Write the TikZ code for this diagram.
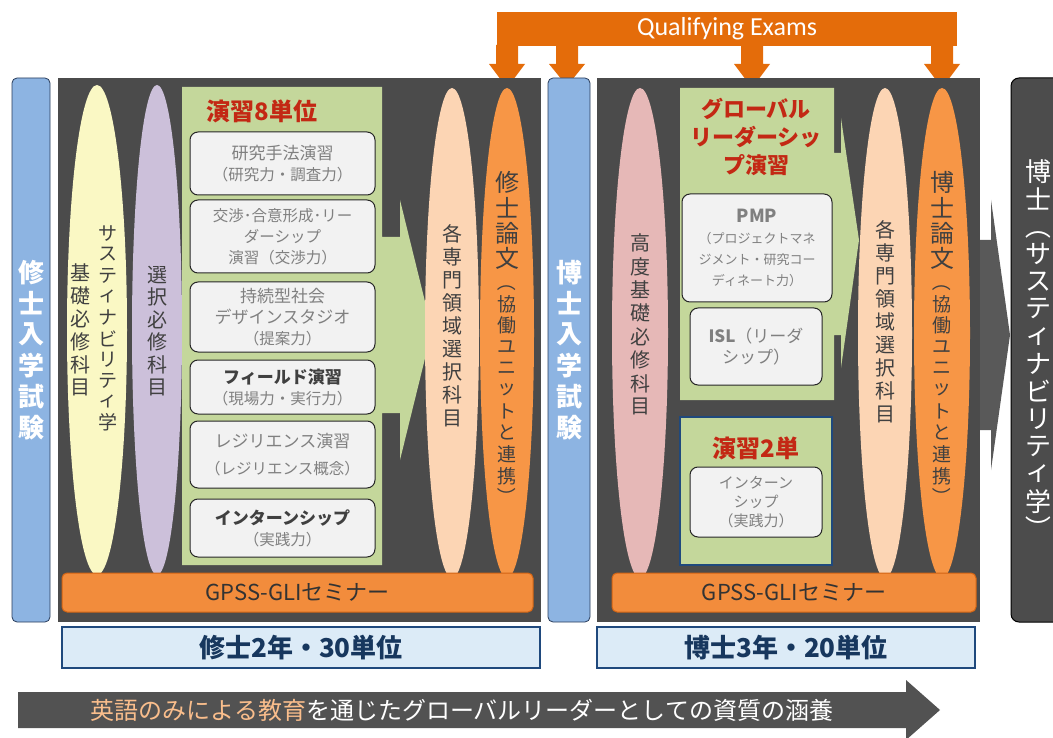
\documentclass[tikz,border=0pt]{standalone}
\usepackage{fontspec}
\usepackage{graphicx}
\setmainfont{Noto Sans CJK JP}
\newfontfamily\latinfont{Carlito}
\usetikzlibrary{shapes.geometric}

\definecolor{panelgray}{RGB}{75,75,75}
\definecolor{entryblue}{RGB}{141,180,226}
\definecolor{entryline}{RGB}{40,60,90}
\definecolor{lemon}{RGB}{250,248,196}
\definecolor{lavender}{RGB}{204,192,218}
\definecolor{leaf}{RGB}{196,215,155}
\definecolor{cardgray}{RGB}{242,242,242}
\definecolor{peach}{RGB}{252,213,180}
\definecolor{thesisorange}{RGB}{247,150,70}
\definecolor{barorange}{RGB}{242,140,60}
\definecolor{barline}{RGB}{210,100,20}
\definecolor{qeorange}{RGB}{228,108,10}
\definecolor{rose}{RGB}{230,184,183}
\definecolor{yearblue}{RGB}{220,235,247}
\definecolor{yearline}{RGB}{31,73,125}
\definecolor{navy}{RGB}{23,55,94}
\definecolor{titlered}{RGB}{195,40,20}
\definecolor{inkgray}{RGB}{64,64,64}
\definecolor{softgray}{RGB}{128,128,128}
\definecolor{goldtext}{RGB}{250,190,140}

% vertical parentheses and smaller card lines
\newcommand\vopen{\rotatebox[origin=c]{-90}{（}}
\newcommand\vclose{\rotatebox[origin=c]{-90}{）}}
\newcommand\cardsub[1]{{\fontsize{15.5}{20}\selectfont #1}}

% vertical text: one glyph per cell of fixed pitch
\newcommand\vcell[1]{\hbox to 1.1em{\hss\vbox to \vpitch{\vss\hbox{#1}\vss}\hss}}
\def\vstackloop#1{\ifx\relax#1\else\vcell{#1}\expandafter\vstackloop\fi}
\newcommand\vstack[2]{\vbox{\offinterlineskip\def\vpitch{#1}\vstackloop#2\relax}}

\tikzset{
  exam/.style={draw=entryline, fill=entryblue, rounded corners=5pt, line width=0.8pt,
    inner sep=0pt, text=white, font=\bfseries\fontsize{26}{31}\selectfont},
  pillar/.style={ellipse, inner sep=0pt, minimum width=#1, minimum height=490},
  vlabel/.style={text=inkgray, inner sep=0pt, font=\fontsize{20}{22.5}\selectfont},
  card/.style={draw=black!85, fill=cardgray, rounded corners=8pt, line width=1pt,
    inner sep=0pt, text=softgray, align=center, font=\fontsize{17}{21}\selectfont},
  title/.style={text=titlered, align=center, font=\bfseries\fontsize{24}{28}\selectfont},
  seminar/.style={draw=barline, fill=barorange, rounded corners=5pt, line width=1pt,
    inner sep=0pt, minimum height=39, text=black!80, font=\fontsize{22}{22}\selectfont},
  yearbox/.style={draw=yearline, fill=yearblue, line width=1.2pt, inner sep=0pt,
    minimum height=41, text=navy, font=\bfseries\fontsize{26}{26}\selectfont}
}

\begin{document}
\begin{tikzpicture}[x=1pt, y=-1pt]
\useasboundingbox (0,0) rectangle (1053,738);

% qualifying exams
\node[fill=qeorange, minimum width=460, minimum height=34, inner sep=0pt, text=white,
  font=\latinfont\fontsize{26}{26}\selectfont] (qe) at (727,29) {Qualifying Exams};
\foreach \ax/\ay in {507/88, 567/86, 752/88, 942/88}
  \fill[qeorange] (\ax-11,45) -- (\ax+11,45) -- (\ax+11,64) -- (\ax+18,64)
    -- (\ax,\ay) -- (\ax-18,64) -- (\ax-11,64) -- cycle;

% master
\node[exam, minimum width=38, minimum height=544] (mexam) at (31,350) {\vstack{31pt}{修士入学試験}};
\fill[panelgray] (58,78) rectangle (541,622);

\node[pillar=60, fill=lemon] (msust) at (97,330) {};
\node[vlabel, font=\fontsize{19}{21}\selectfont] (msust1) at (108,328) {\vstack{21pt}{サスティナビリティ学}};
\node[vlabel] (msust2) at (80,330) {\vstack{23pt}{基礎必修科目}};
\node[pillar=50, fill=lavender] (melec) at (157,330) {};
\node[vlabel] (melect) at (157,331) {\vstack{22.5pt}{選択必修科目}};

\fill[leaf] (182,87) -- (382,87) -- (382,237) -- (400,237) -- (400,200) -- (432,330)
  -- (400,460) -- (400,413) -- (382,413) -- (382,565) -- (182,565) -- cycle;
\node[title] (mtitle) at (262,111) {演習8単位};
\node[card, minimum width=185, minimum height=63] (c1) at (282.5,163.5) {研究手法演習\\\cardsub{（研究力・調査力）}};
\node[card, minimum width=185, minimum height=73] (c2) at (282.5,236.5) {\cardsub{交渉･合意形成･リー}\\\cardsub{ダーシップ}\\\cardsub{演習（交渉力）}};
\node[card, minimum width=185, minimum height=70] (c3) at (282.5,317) {持続型社会\\デザインスタジオ\\\cardsub{（提案力）}};
\node[card, minimum width=185, minimum height=54] (c4) at (282.5,387) {\textcolor{inkgray}{\bfseries フィールド演習}\\\cardsub{（現場力・実行力）}};
\node[card, minimum width=185, minimum height=67] (c5) at (282.5,454.5) {レジリエンス演習\\[6pt]\cardsub{（レジリエンス概念）}};
\node[card, minimum width=185, minimum height=58] (c6) at (282.5,528) {\textcolor{inkgray}{\bfseries インターンシップ}\\\cardsub{（実践力）}};

\node[pillar=54, fill=peach] (mfield) at (452,333) {};
\node[vlabel] (mfieldt) at (452,326) {\vstack{23pt}{各専門領域選択科目}};
\node[pillar=54, fill=thesisorange] (mthesis) at (507,333) {};
\node[vlabel, font=\fontsize{24}{24}\selectfont, anchor=north] (mth1) at (507,169) {\vstack{25.5pt}{修士論文}};
\node[vlabel, font=\fontsize{19}{19}\selectfont, anchor=north] (mth2) at (mth1.south) {\vstack{21.5pt}{\vopen 協働ユニットと連携\vclose}};

\node[seminar, minimum width=471] (msem) at (297.5,592.5) {GPSS-GLIセミナー};
\node[yearbox, minimum width=478] (myear) at (301,647.5) {修士2年・30単位};

% doctor
\node[exam, minimum width=42, minimum height=544] (dexam) at (569,350) {\vstack{31pt}{博士入学試験}};
\fill[panelgray] (597,78) rectangle (980,622);

\node[pillar=56, fill=rose] (dbase) at (640,333) {};
\node[vlabel] (dbaset) at (640,325) {\vstack{23.4pt}{高度基礎必修科目}};

\fill[leaf] (680,88) -- (834,88) -- (834,153) -- (841,153) -- (841,118) -- (859,240)
  -- (841,368) -- (841,335) -- (834,335) -- (834,400) -- (680,400) -- cycle;
\node[title, font=\bfseries\fontsize{22}{28}\selectfont] (dtitle) at (756,137) {グローバル\\リーダーシッ\\プ演習};
\node[card, minimum width=150, minimum height=108] (pmp) at (757,248)
  {{\bfseries\fontsize{18}{22}\selectfont PMP}\\{\fontsize{13}{17}\selectfont（プロジェクトマネ}\\{\fontsize{13}{17}\selectfont ジメント・研究コー}\\{\fontsize{13}{17}\selectfont ディネート力）}};
\node[card, minimum width=132, minimum height=77] (isl) at (756,346.5) {{\bfseries ISL}（リーダ\\シップ）};

\node[draw=yearline, fill=leaf, line width=1.5pt, minimum width=152, minimum height=148, inner sep=0pt] (dprac) at (756,491) {};
\node[title] (dprtitle) at (756,448) {演習2単};
\node[card, minimum width=132, minimum height=70, font=\fontsize{15}{19}\selectfont] (intern) at (756,502) {インターン\\シップ\\（実践力）};

\node[pillar=54, fill=peach] (dfield) at (885,333) {};
\node[vlabel] (dfieldt) at (885,322) {\vstack{23pt}{各専門領域選択科目}};
\node[pillar=56, fill=thesisorange] (dthesis) at (942,333) {};
\node[vlabel, font=\fontsize{24}{24}\selectfont, anchor=north] (dth1) at (942,169) {\vstack{25.5pt}{博士論文}};
\node[vlabel, font=\fontsize{19}{19}\selectfont, anchor=north] (dth2) at (dth1.south) {\vstack{21.5pt}{\vopen 協働ユニットと連携\vclose}};

\node[seminar, minimum width=364] (dsem) at (794,592.5) {GPSS-GLIセミナー};
\node[yearbox, minimum width=378] (dyear) at (786,647.5) {博士3年・20単位};

% degree
\fill[black!65] (980,240) -- (991,240) -- (991,200) -- (1010,335) -- (991,470) -- (991,430) -- (980,430) -- cycle;
\node[draw=black, fill=black!70, rounded corners=8pt, line width=1pt, minimum width=54, minimum height=544,
  inner sep=0pt, text=white, font=\fontsize{26}{26}\selectfont] (degree) at (1038,350)
  {\vstack{27.5pt}{博士\vopen サスティナビリティ学\vclose}};

% bottom arrow
\fill[black!68] (18,692) -- (906,692) -- (906,680) -- (940,710) -- (906,740) -- (906,728) -- (18,728) -- cycle;
\node[text=white, font=\fontsize{24}{24}\selectfont] (motto) at (462,710)
  {\textcolor{goldtext}{英語のみによる教育}を通じたグローバルリーダーとしての資質の涵養};
\end{tikzpicture}
\end{document}
